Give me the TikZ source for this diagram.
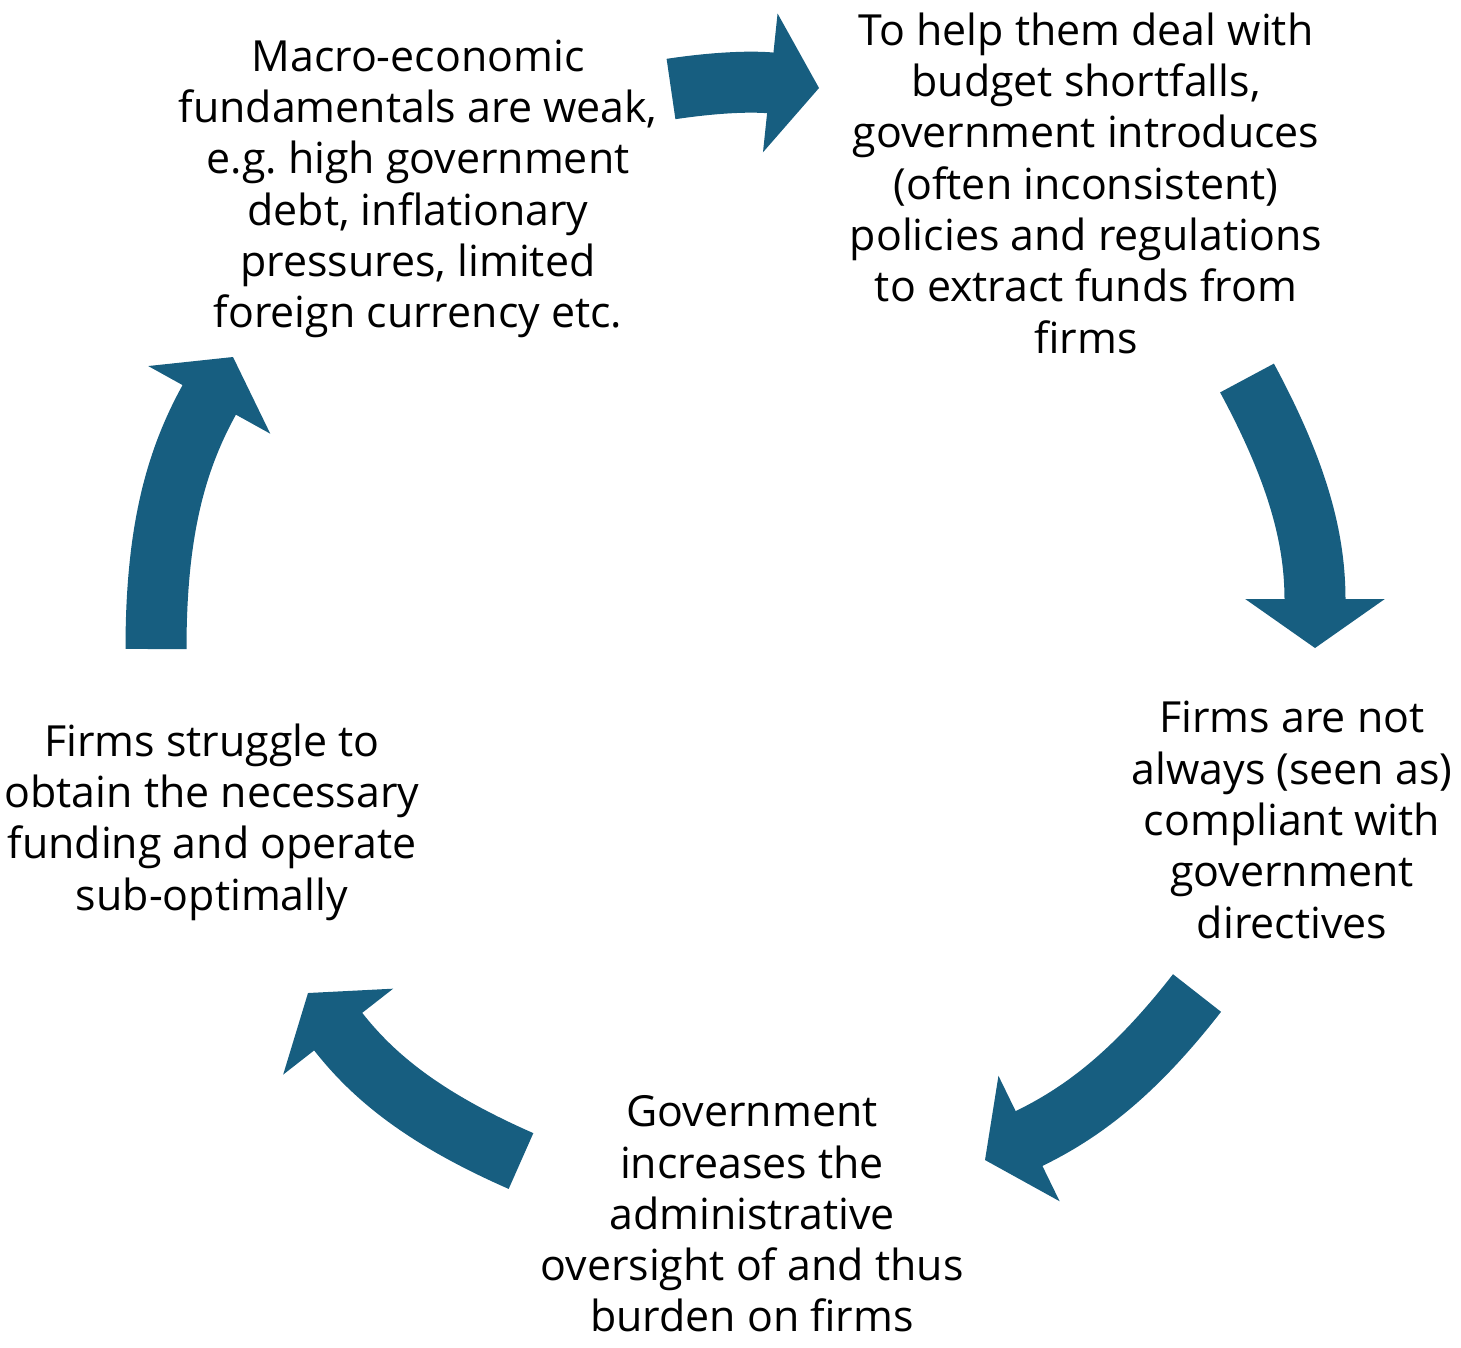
\documentclass[tikz,border=0pt]{standalone}
\usepackage{fontspec}
\setmainfont{Open Sans}
\usepackage{tikz}
\usetikzlibrary{arrows.meta}
\definecolor{cycblue}{RGB}{23,94,128}

\begin{document}
\begin{tikzpicture}[
  txt/.style={align=center,inner sep=0pt,font=\fontsize{12.2}{14.6}\selectfont},
  cyc/.style={draw=cycblue,line width=6.1mm,-{Triangle[width=13.9mm,length=4.9mm,line width=1pt]}}]
\useasboundingbox (0,0) rectangle (14.61,-13.47);
% the five steps of the cycle
\node[txt] (macro) at (4.18,-1.89) {Macro-economic\\fundamentals are weak,\\e.g.\ high government\\debt, inflationary\\pressures, limited\\foreign currency etc.};
\node[txt] (policy) at (10.86,-1.83) {To help them deal with\\budget shortfalls,\\government introduces\\(often inconsistent)\\policies and regulations\\to extract funds from\\firms};
\node[txt] (comply) at (12.92,-8.20) {Firms are not\\always (seen as)\\compliant with\\government\\directives};
\node[txt] (burden) at (7.52,-12.14) {Government\\increases the\\administrative\\oversight of and thus\\burden on firms};
\node[txt] (fund) at (2.12,-8.22) {Firms struggle to\\obtain the necessary\\funding and operate\\sub-optimally};
% ends of the arrows
\coordinate (a1s) at (6.71,-0.89);
\coordinate (a1e) at (8.19,-0.88);
\coordinate (a2s) at (12.47,-3.78);
\coordinate (a2e) at (13.15,-6.48);
\coordinate (a3s) at (11.97,-9.93);
\coordinate (a3e) at (9.85,-11.60);
\coordinate (a4s) at (5.21,-11.61);
\coordinate (a4e) at (3.08,-9.93);
\coordinate (a5s) at (1.56,-6.49);
\coordinate (a5e) at (2.33,-3.57);
\draw[cyc] (a1s) to[out=8.5,in=174] (a1e);
\draw[cyc] (a2s) to[out=-61.7,in=90] (a2e);
\draw[cyc] (a3s) to[out=232.1,in=26] (a3e);
\draw[cyc] (a4s) to[out=156.3,in=-52] (a4e);
\draw[cyc] (a5s) to[out=90,in=-119] (a5e);
\end{tikzpicture}
\end{document}
